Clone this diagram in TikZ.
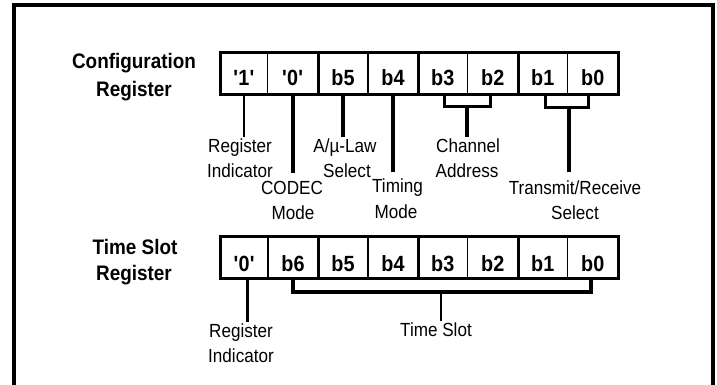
\documentclass[tikz,border=0pt]{standalone}
\usepackage{fontspec}
\setmainfont{Liberation Sans}[FakeStretch=0.9]
\begin{document}
\begin{tikzpicture}[x=1pt,y=-1pt,
  cell/.style={draw,line width=1.5pt,minimum height=42pt,inner sep=0pt,outer sep=0pt,
    text depth=0pt,font=\fontsize{22}{22}\selectfont\bfseries},
  lbl/.style={anchor=base,inner sep=1pt,font=\fontsize{19}{19}\selectfont},
  ttl/.style={anchor=base,inner sep=0pt,font=\fontsize{21}{21}\selectfont\bfseries},
  thinconn/.style={line width=2pt},
  conn/.style={line width=3.5pt},
  box/.style={line width=3pt},
  frame/.style={line width=3.5pt}]
\useasboundingbox (0,0) rectangle (717,385);
\coordinate (fbl) at (14,390);
\coordinate (ftl) at (14,5);
\coordinate (ftr) at (713,5);
\coordinate (fbr) at (713,390);
\draw[frame] (fbl) -- (ftl) -- (ftr) -- (fbr);

% titles
\node[ttl] (t1a) at (134,69) {Configuration};
\node[ttl] (t1b) at (134,97) {Register};
\node[ttl] (t2a) at (135,254) {Time Slot};
\node[ttl] (t2b) at (134,280) {Register};

% configuration register cells
\foreach \n/\l/\r/\t in {1/220.5/267.5/\textquotesingle1\textquotesingle,
  2/267.5/318/\textquotesingle0\textquotesingle, 3/318/368/b5, 4/368/418/b4,
  5/418/467.5/b3, 6/467.5/518/b2, 7/518/567.5/b1, 8/567.5/618/b0}
  \node[cell,text height=24pt,minimum width={(\r-\l)*1pt}] (c\n) at ({(\l+\r)/2},73.5) {\t};
\draw[box] (c1.north west) rectangle (c8.south east);
\foreach \n in {2,4,6} \draw[box] (c\n.north east) -- (c\n.south east);

% time slot register cells
\foreach \n/\l/\r/\t in {1/220.5/268/\textquotesingle0\textquotesingle,
  2/268/318/b6, 3/318/368/b5, 4/368/418/b4,
  5/418/467.5/b3, 6/467.5/518/b2, 7/518/567.5/b1, 8/567.5/618/b0}
  \node[cell,text height=28pt,minimum width={(\r-\l)*1pt}] (s\n) at ({(\l+\r)/2},257.5) {\t};
\draw[box] (s1.north west) rectangle (s8.south east);
\foreach \n in {2,4,6} \draw[box] (s\n.north east) -- (s\n.south east);

% configuration labels
\node[lbl] (ri1) at (240,152) {Register};
\node[lbl] (ri1b) at (240,177) {Indicator};
\node[lbl] (cod) at (292,194) {CODEC};
\node[lbl] (codb) at (293,219) {Mode};
\node[lbl] (alaw) at (345,152) {A/\textmu-Law};
\node[lbl] (alawb) at (347,177) {Select};
\node[lbl] (tim) at (397.5,192) {Timing};
\node[lbl] (timb) at (396,218) {Mode};
\node[lbl] (ch) at (468,152) {Channel};
\node[lbl] (chb) at (467,177) {Address};
\node[lbl] (tr) at (575,194) {Transmit/Receive};
\node[lbl] (trb) at (575,219) {Select};

\draw[thinconn] (c1.south) -- (c1.south |- ri1.north);
\draw[conn] (c2.south) -- ([yshift=7pt]c2.south |- cod.north);
\draw[conn] (c3.south) -- (c3.south |- alaw.north);
\draw[conn] (c4.south) -- ([yshift=5pt]c4.south |- tim.north);
\coordinate (chj) at (467,107);
\draw[box] ([xshift=2pt]c5.south) |- (chj) -| ([xshift=-2pt]c6.south);
\draw[conn] (chj) -- (chj |- ch.north);
\coordinate (trj) at (569,108);
\draw[box] ([xshift=3pt]c7.south) |- (trj) -| ([xshift=-4pt]c8.south);
\draw[conn] (trj) -- ([yshift=7pt]trj |- tr.north);

% time slot labels
\node[lbl] (ri2) at (241,337) {Register};
\node[lbl] (ri2b) at (241,362) {Indicator};
\node[lbl] (ts) at (436,336) {Time Slot};
\draw[conn] ([xshift=3pt]s1.south) -- ([xshift=3pt]s1.south |- ri2.north);
\coordinate (tsj) at (441,292);
\draw[conn] (s2.south) |- (tsj) -| ([xshift=-2pt]s8.south);
\draw[thinconn] (tsj) -- (tsj |- ts.north);
\end{tikzpicture}
\end{document}
